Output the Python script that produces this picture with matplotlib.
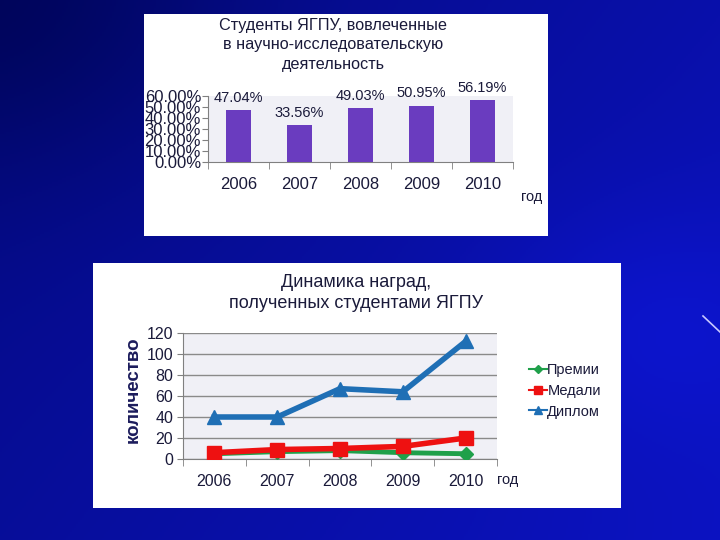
import numpy as np
import matplotlib
matplotlib.use('Agg')
import matplotlib.pyplot as plt
from matplotlib.patches import Rectangle
from matplotlib.lines import Line2D

plt.rcParams['font.family'] = ['Liberation Sans', 'DejaVu Sans']

years = ['2006', '2007', '2008', '2009', '2010']
share = [47.04, 33.56, 49.03, 50.95, 56.19]
share_labels = ['47.04%', '33.56%', '49.03%', '50.95%', '56.19%']

premii = [5, 7, 8, 6, 5]
medali = [6, 9, 10, 12, 20]
diplom = [40, 40, 67, 64, 112]

W, H = 720, 540
fig = plt.figure(figsize=(7.2, 5.4), dpi=100)


def fx(px):
    return px / W


def fy(py):
    return 1 - py / H


# slide background: dark blue gradient
bg = fig.add_axes([0, 0, 1, 1], zorder=0)
yy, xx = np.mgrid[0:1:270j, 0:1:360j]
t = np.clip(0.35 + 0.35 * xx + 0.2 * yy - 0.35 * np.exp(-(xx ** 2 + yy ** 2) / 0.12)
            + 0.2 * np.exp(-((xx - 0.9) ** 2 + (yy - 0.6) ** 2) / 0.05), 0, 1)
c0 = np.array([0.0, 0.02, 0.36])
c1 = np.array([0.05, 0.08, 0.80])
img = c0[None, None, :] * (1 - t[..., None]) + c1[None, None, :] * t[..., None]
bg.imshow(img, extent=[0, 1, 0, 1], aspect='auto', origin='upper')
bg.plot([fx(703), fx(720)], [fy(316), fy(332)], color='#c8c8ff', lw=1.2)
# white panels
bg.add_patch(Rectangle((fx(144), fy(236)), fx(404), 222 / H, facecolor='white', edgecolor='none'))
bg.add_patch(Rectangle((fx(93), fy(508)), fx(528), 245 / H, facecolor='white', edgecolor='none'))
bg.set_xlim(0, 1)
bg.set_ylim(0, 1)
bg.axis('off')

text_col = '#1a1a3a'
x = np.arange(len(years))

# ---- top chart: bars ----
ax1 = fig.add_axes([fx(208), fy(162), fx(305), 66 / H], zorder=2)
ax1.set_facecolor('#f0f0f6')
ax1.bar(x, share, width=0.41, color='#6a3cbf', zorder=3)
for xi, v, lab in zip(x, share, share_labels):
    ax1.text(xi, v + 5, lab, ha='center', va='bottom', fontsize=10.5, color=text_col)
ax1.set_xlim(-0.5, 4.5)
ax1.set_ylim(0, 60)
ax1.set_yticks(np.arange(0, 61, 10))
ax1.set_yticklabels(['%.2f%%' % v for v in np.arange(0, 61, 10)], fontsize=12, color=text_col)
ax1.set_xticks(x)
ax1.set_xticklabels(years, fontsize=12, color=text_col)
ax1.set_xticks(np.arange(-0.5, 5, 1), minor=True)
ax1.tick_params(axis='x', which='major', length=0, pad=11)
ax1.tick_params(axis='x', which='minor', length=5, color='#808080')
ax1.tick_params(axis='y', length=4, color='#808080', pad=1)
for s in ['top', 'right']:
    ax1.spines[s].set_visible(False)
ax1.spines['left'].set_color('#808080')
ax1.spines['bottom'].set_color('#808080')
fig.text(fx(333), fy(45), 'Студенты ЯГПУ, вовлеченные\nв научно-исследовательскую\nдеятельность',
         ha='center', va='center', fontsize=11.7, color=text_col, linespacing=1.4, zorder=3)
fig.text(fx(521), fy(197), 'год', ha='left', va='center', fontsize=10.5, color=text_col, zorder=3)

# ---- bottom chart: lines ----
ax2 = fig.add_axes([fx(183), fy(459), fx(314), 126 / H], zorder=2)
ax2.set_facecolor('#f0f0f6')
ax2.grid(axis='y', color='#8a8a8a', lw=1, zorder=0)
ax2.plot(x, premii, color='#1fa04a', lw=3.5, marker='D', ms=7, zorder=3, label='Премии')
ax2.plot(x, medali, color='#ee1111', lw=4, marker='s', ms=10, zorder=4, label='Медали')
ax2.plot(x, diplom, color='#1f6fb5', lw=4, marker='^', ms=10, zorder=5, label='Диплом')
ax2.set_xlim(-0.5, 4.5)
ax2.set_ylim(0, 120)
ax2.set_yticks(np.arange(0, 121, 20))
ax2.set_xticks(x)
ax2.set_xticklabels(years, fontsize=11.5, color=text_col)
ax2.set_xticks(np.arange(-0.5, 5, 1), minor=True)
ax2.tick_params(axis='x', which='major', length=0, pad=11)
ax2.tick_params(axis='x', which='minor', length=5, color='#808080')
ax2.tick_params(axis='y', length=4, color='#808080', labelsize=11.5, labelcolor=text_col, pad=3)
for s in ['top', 'right']:
    ax2.spines[s].set_visible(False)
ax2.spines['left'].set_color('#808080')
ax2.spines['bottom'].set_color('#808080')
ax2.set_axisbelow(True)

handles = [Line2D([], [], color='#1fa04a', lw=1.5, marker='D', ms=4),
           Line2D([], [], color='#ee1111', lw=1.5, marker='s', ms=6),
           Line2D([], [], color='#1f6fb5', lw=1.5, marker='^', ms=6)]
leg = fig.legend(handles, ['Премии', 'Медали', 'Диплом'], loc='center left',
                 bbox_to_anchor=(fx(516), fy(391)), frameon=False, fontsize=10.5,
                 handlelength=1.2, handletextpad=0.05, labelspacing=0.45, labelcolor=text_col)
leg.set_zorder(3)

fig.text(fx(356), fy(293), 'Динамика наград,\nполученных студентами ЯГПУ',
         ha='center', va='center', fontsize=13, color=text_col, linespacing=1.3, zorder=3)
fig.text(fx(133), fy(390), 'количество', rotation=90, ha='center', va='center',
         fontsize=13.5, fontweight='bold', color='#1c1c5c', zorder=3)
fig.text(fx(497), fy(480), 'год', ha='left', va='center', fontsize=10.5, color=text_col, zorder=3)

fig.savefig('out.png', dpi=100)
